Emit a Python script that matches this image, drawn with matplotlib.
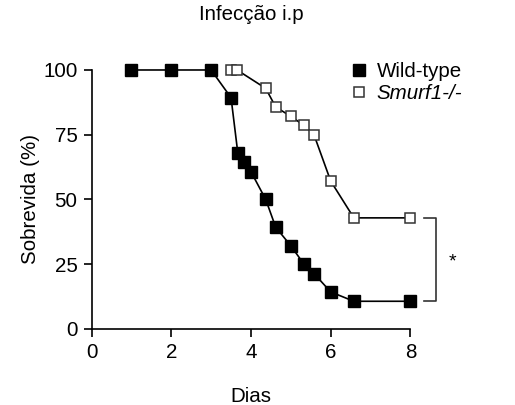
import matplotlib
matplotlib.use("Agg")
import matplotlib.pyplot as plt
from matplotlib.lines import Line2D

plt.rcParams['font.family'] = ['Liberation Sans', 'DejaVu Sans']

wt_days = [1, 2, 3, 3.5, 3.67, 3.83, 4.0, 4.37, 4.62, 5.0, 5.33, 5.58, 6.0, 6.58, 8.0]
wt_surv = [100, 100, 100, 89.3, 67.9, 64.3, 60.7, 50.0, 39.3, 32.1, 25.0, 21.4, 14.3, 10.7, 10.7]
ko_days = [3.5, 3.65, 4.37, 4.62, 5.0, 5.33, 5.58, 6.0, 6.58, 8.0]
ko_surv = [100, 100, 92.9, 85.7, 82.1, 78.6, 75.0, 57.1, 42.9, 42.9]
xticks = [0, 2, 4, 6, 8]
yticks = [0, 25, 50, 75, 100]

fig = plt.figure(figsize=(5.15, 4.05), dpi=100)
ax = fig.add_axes([0.1777, 0.1877, 0.797 - 0.1777, 0.8272 - 0.1877])

ax.plot(wt_days, wt_surv, color='black', lw=1.2, marker='s', ms=8.2,
        mfc='black', mec='black', clip_on=False, label='Wild-type', zorder=3)
ax.plot(ko_days, ko_surv, color='black', lw=1.2, marker='s', ms=7.8,
        mfc='white', mec='#333333', mew=1.1, clip_on=False, label='Smurf1-/-', zorder=3)

ax.set_xlim(0, 8)
ax.set_ylim(0, 100)
ax.set_xticks(xticks)
ax.set_yticks(yticks)
for s in ['top', 'right']:
    ax.spines[s].set_visible(False)
for s in ['left', 'bottom']:
    ax.spines[s].set_linewidth(1.2)
ax.tick_params(direction='out', length=6, width=1.2, labelsize=14.8, pad=4)

ax.set_xlabel('Dias', fontsize=14.8, labelpad=18)
ax.set_ylabel('Sobrevida (%)', fontsize=14.8, labelpad=2)
ax.set_title('Infecção i.p', fontsize=14.8, pad=36)

# significance bracket
bx0, bx1 = 8.35, 8.65
ax.plot([bx0, bx1, bx1, bx0], [ko_surv[-1], ko_surv[-1], wt_surv[-1], wt_surv[-1]],
        color='#333333', lw=1.2, clip_on=False)
ax.text(9.05, (ko_surv[-1] + wt_surv[-1]) / 2 - 1, '*', ha='center', va='center', fontsize=14)

hh = [Line2D([], [], ls='none', marker='s', ms=8.2, mfc='black', mec='black'),
      Line2D([], [], ls='none', marker='s', ms=7.8, mfc='white', mec='#333333', mew=1.1)]
leg = ax.legend(hh, ['Wild-type', 'Smurf1-/-'], loc='upper left', bbox_to_anchor=(0.755, 1.095),
                frameon=False, fontsize=14.8, handlelength=1.0, handletextpad=0.35,
                labelspacing=0.15, borderpad=0.3)
leg.get_texts()[1].set_fontstyle('italic')

fig.savefig('out.png', dpi=100)
